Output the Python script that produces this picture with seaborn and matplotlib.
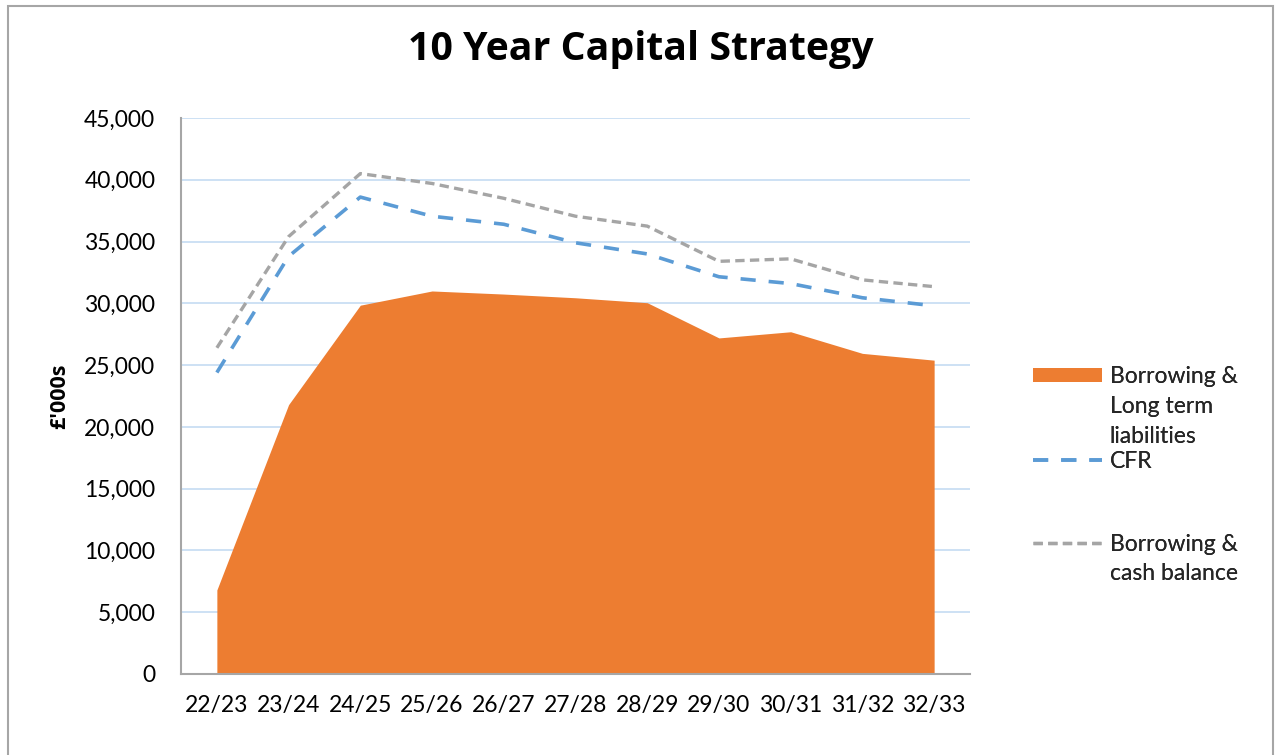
import numpy as np
import pandas as pd
import matplotlib
matplotlib.use("Agg")
import matplotlib.pyplot as plt
import seaborn as sns
from matplotlib.lines import Line2D
from matplotlib.patches import Patch, Rectangle
from matplotlib.ticker import FuncFormatter

# --- data (£'000s) ---
years = ["22/23", "23/24", "24/25", "25/26", "26/27", "27/28",
         "28/29", "29/30", "30/31", "31/32", "32/33"]
borrowing_ltl = [6800, 21800, 29850, 31000, 30750, 30450,
                 30050, 27200, 27700, 25950, 25400]
cfr = [24400, 33800, 38600, 37050, 36400, 34900,
       34000, 32150, 31600, 30450, 29800]
borrowing_cash = [26400, 35400, 40500, 39700, 38500, 37050,
                  36250, 33400, 33600, 31900, 31350]

ORANGE = "#ED7D31"
BLUE = "#5B9BD5"
GREY = "#A5A5A5"
GRID = "#C5DBF2"
SPINE = "#A6A6A6"

sns.set_theme(style="white")
plt.rcParams["font.family"] = ["Lato", "DejaVu Sans"]

df = pd.DataFrame({"pos": np.arange(len(years)), "year": years,
                   "ltl": borrowing_ltl, "cfr": cfr, "cash": borrowing_cash})

fig = plt.figure(figsize=(12.82, 7.55), dpi=100)
ax = fig.add_axes([181 / 1282, 81 / 755, 789 / 1282, 556 / 755])

ax.fill_between(df["pos"], df["ltl"], color=ORANGE, linewidth=0, zorder=2)
sns.lineplot(data=df, x="pos", y="cfr", ax=ax, color=BLUE, linewidth=2.6,
             dashes=False, zorder=3)
sns.lineplot(data=df, x="pos", y="cash", ax=ax, color=GREY, linewidth=2.4,
             dashes=False, zorder=3)
ax.lines[0].set_dashes((4.2, 3.6))
ax.lines[1].set_dashes((2.8, 1.6))
for ln in ax.lines:
    ln.set_dash_capstyle("butt")

ax.set_xlim(-0.5, len(years) - 0.5)
ax.set_ylim(0, 45000)
ax.set_yticks(np.arange(0, 45001, 5000))
ax.yaxis.set_major_formatter(FuncFormatter(lambda v, p: f"{int(v):,}"))
ax.set_xticks(df["pos"])
ax.set_xticklabels(years)
ax.set_xlabel("")
ax.set_ylabel("")
ax.tick_params(axis="both", length=0, labelsize=16.5, colors="black")
ax.tick_params(axis="y", pad=18.5)
ax.tick_params(axis="x", pad=15)

ax.set_axisbelow(True)
ax.yaxis.grid(True, color=GRID, linewidth=1.2)
ax.xaxis.grid(False)
for side in ["top", "right"]:
    ax.spines[side].set_visible(False)
for side in ["left", "bottom"]:
    ax.spines[side].set_color(SPINE)
    ax.spines[side].set_linewidth(1.5)

fig.text(0.5, 1 - 60 / 755, "10 Year Capital Strategy", ha="center",
         va="baseline", fontsize=28.3, fontweight="bold",
         family=["Open Sans", "DejaVu Sans"], color="black")
fig.text(60 / 1282, 1 - 396 / 755, "£'000s", rotation=90, ha="center",
         va="center", fontsize=15.5, fontweight="bold",
         family=["Open Sans", "DejaVu Sans"], color="black")

# legend, built as three groups to keep Excel's uneven spacing
blank = Line2D([], [], linestyle="none")
leg_kw = dict(loc="center left", frameon=False, borderpad=0, borderaxespad=0,
              handlelength=3.0, handletextpad=0.35, handleheight=0.57,
              labelspacing=0.39, fontsize=16.5, bbox_transform=fig.transFigure)
groups = [
    ([Patch(color=ORANGE, linewidth=0), blank, blank],
     ["Borrowing &", "Long term", "liabilities"], 406.5),
    ([Line2D([], [], color=BLUE, linewidth=2.6, dashes=(4.2, 3.6))],
     ["CFR"], 461),
    ([Line2D([], [], color=GREY, linewidth=2.4, dashes=(2.8, 1.6)), blank],
     ["Borrowing &", "cash balance"], 559),
]
for handles, labels, yc in groups:
    leg = fig.legend(handles, labels, bbox_to_anchor=(1033 / 1282, 1 - yc / 755),
                     **leg_kw)
    fig.add_artist(leg)

# outer chart border
fig.patches.append(Rectangle((8 / 1282, -0.05), 1265 / 1282, 1.05 - 6 / 755,
                             transform=fig.transFigure, fill=False,
                             edgecolor=SPINE, linewidth=1.5))

fig.savefig("out.png", dpi=100)
